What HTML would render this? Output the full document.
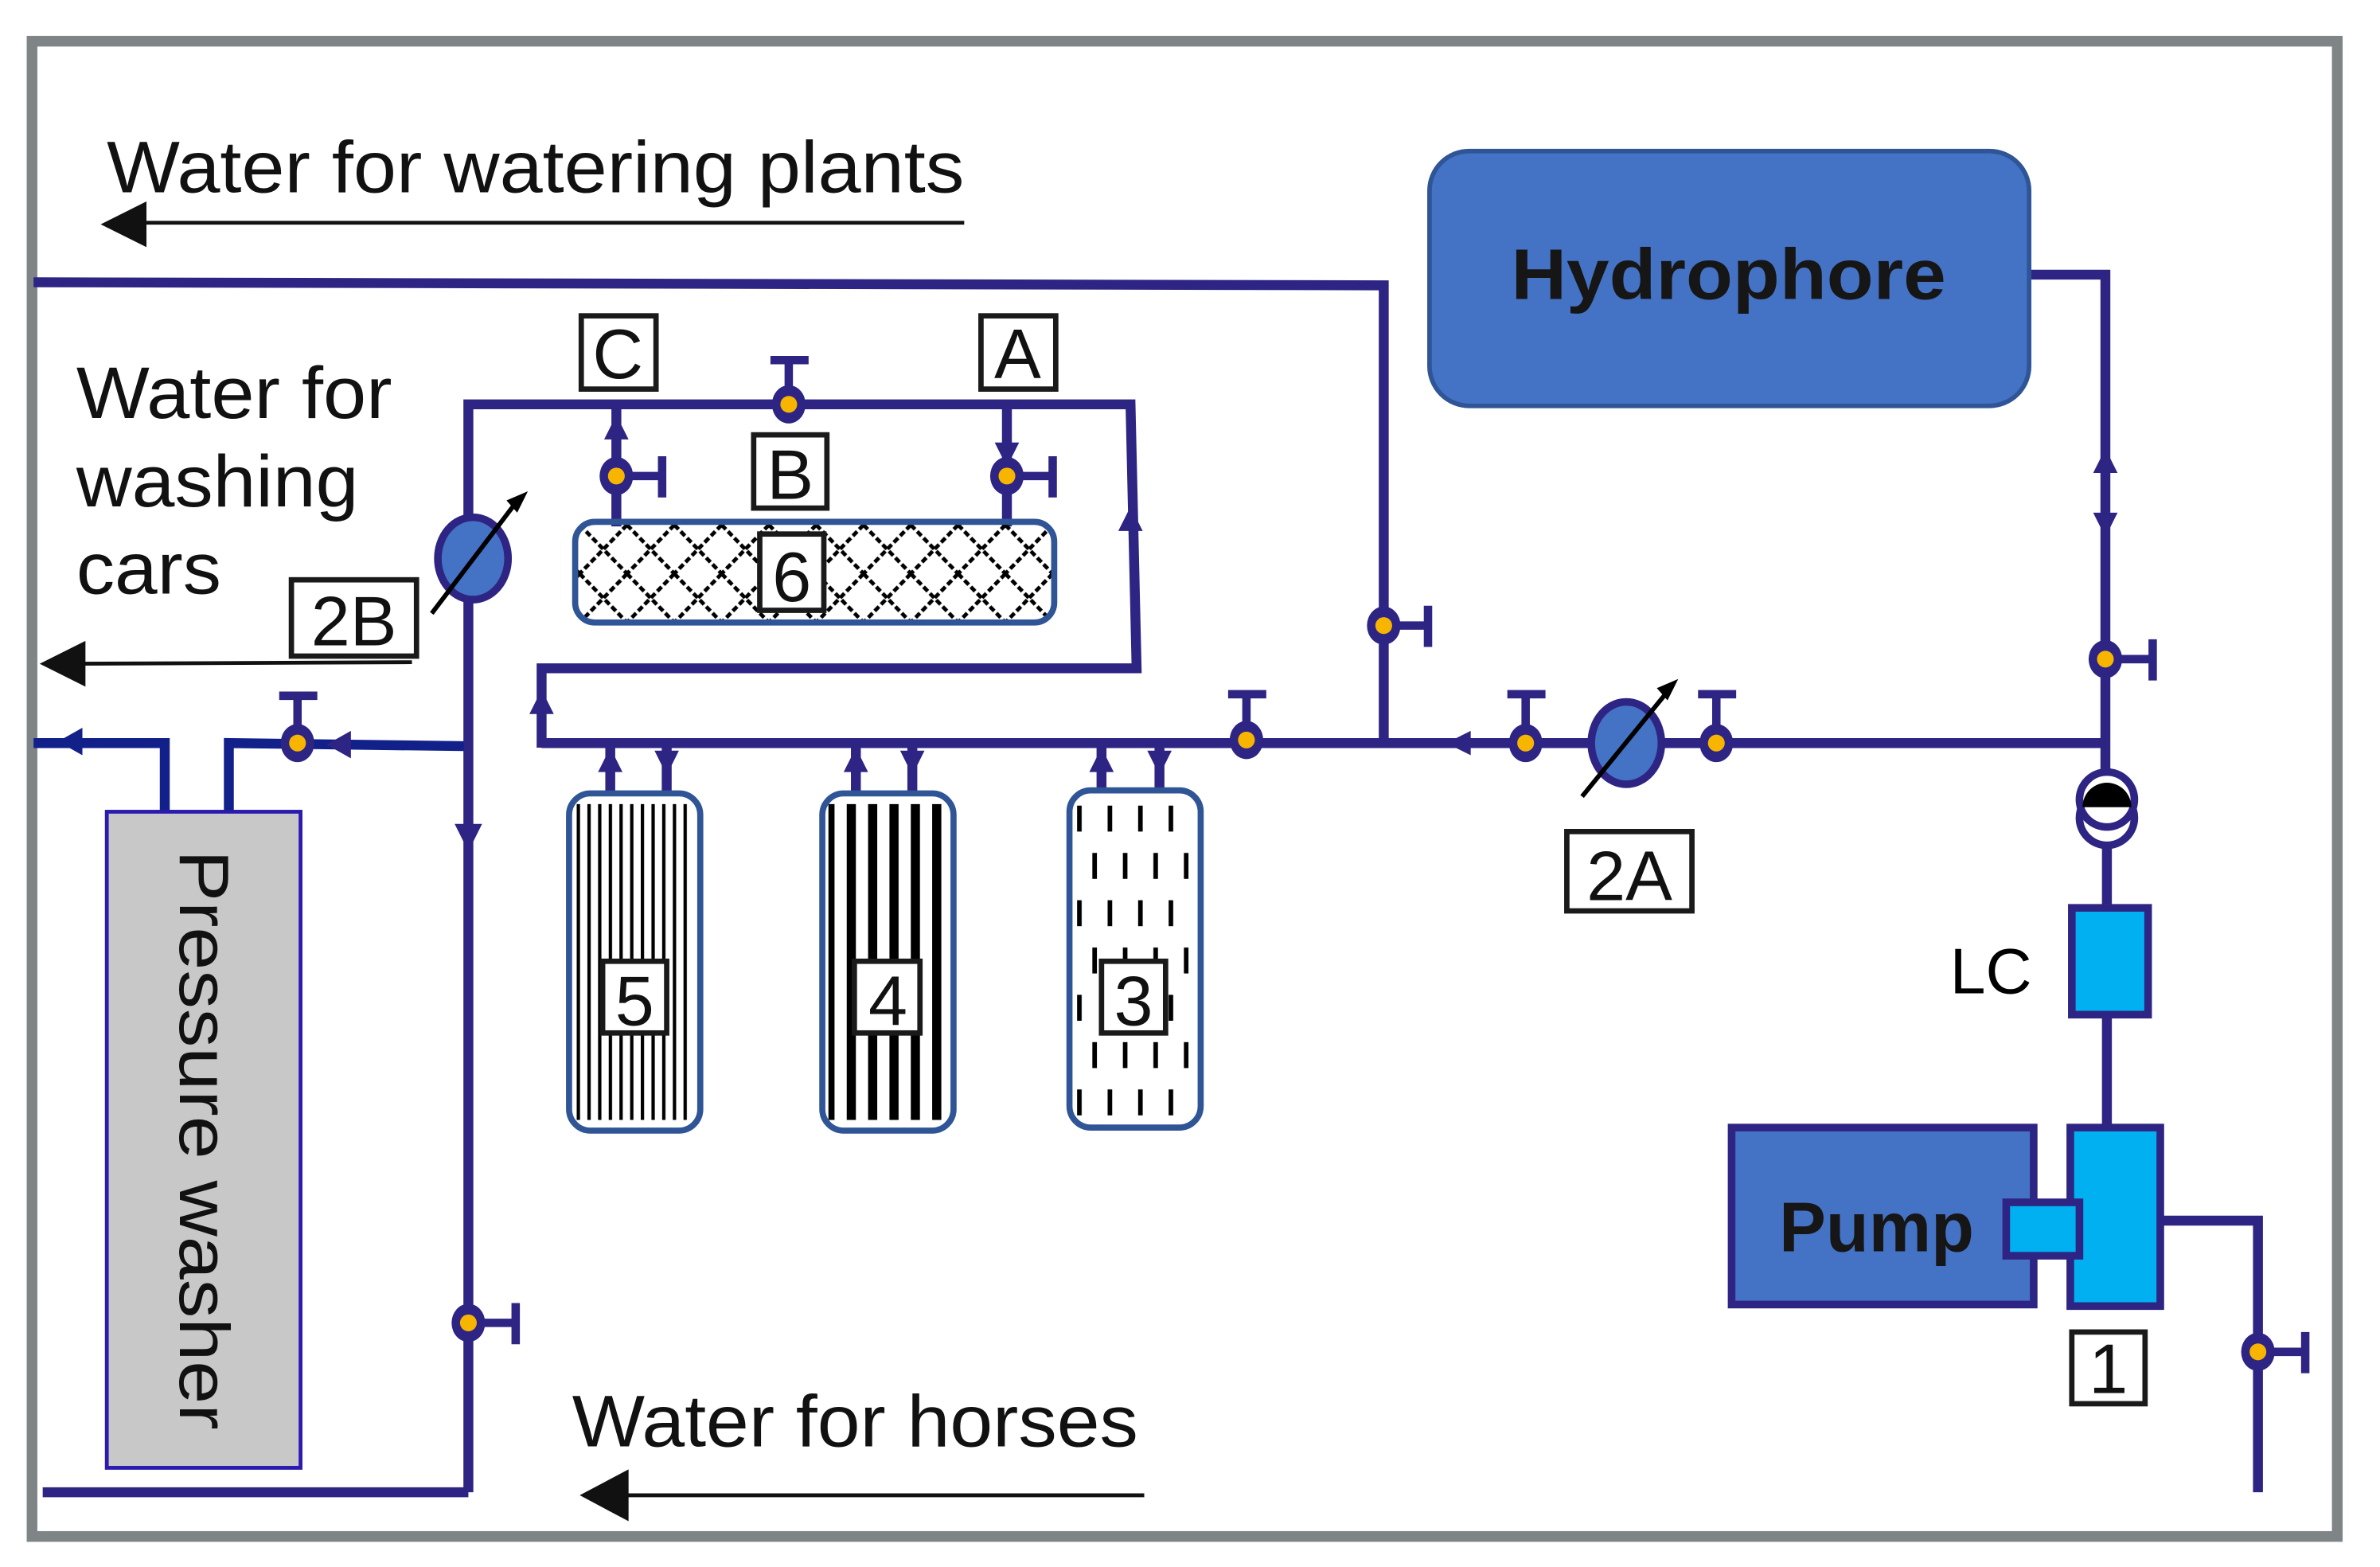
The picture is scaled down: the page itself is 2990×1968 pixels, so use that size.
<!DOCTYPE html>
<html><head><meta charset="utf-8"><style>
html,body{margin:0;padding:0;background:#fff;}
svg{display:block;}
text{font-family:"Liberation Sans Narrow","Liberation Sans",sans-serif;}
</style></head><body>
<svg width="2990" height="1968" viewBox="0 0 1560 1027" preserveAspectRatio="none" xmlns="http://www.w3.org/2000/svg">
<defs>
<pattern id="p5" width="7" height="10" patternUnits="userSpaceOnUse"><rect x="0" y="0" width="2.2" height="10" fill="#000"/></pattern>
<pattern id="p4" width="14" height="10" patternUnits="userSpaceOnUse" x="541"><rect x="0" y="0" width="6" height="10" fill="#000"/></pattern>
<pattern id="p3" width="40" height="62" patternUnits="userSpaceOnUse" x="706" y="520"><rect x="0" y="8" width="3" height="17" fill="#000"/><rect x="20" y="8" width="3" height="17" fill="#000"/><rect x="10" y="39" width="3" height="17" fill="#000"/><rect x="30" y="39" width="3" height="17" fill="#000"/></pattern>
<pattern id="p6" width="31" height="32" patternUnits="userSpaceOnUse" x="380" y="344"><path d="M0 0 L31 32 M31 0 L0 32" stroke="#000" stroke-width="2.5" stroke-dasharray="4 2"/></pattern>
<g id="v"><ellipse cx="0" cy="0" rx="11" ry="12.5" fill="#2e2483"/><circle cx="0" cy="0" r="5.5" fill="#f8b500"/></g>
</defs>
<rect x="21" y="27" width="1511" height="980" fill="#fff" stroke="#7f8487" stroke-width="7"/>

<g fill="none" stroke="#2e2483" stroke-width="6.5">
<polyline points="22,185 907,187 907,487"/>
<polyline points="355,487 1380,487"/>
<polyline points="1330,180 1380,180 1380,540"/>
<polyline points="307,978 307,265 741,265 745,438 355,438 355,490"/>
<line x1="404" y1="265" x2="404" y2="345"/>
<line x1="660" y1="265" x2="660" y2="345"/>
<polyline points="400,520 400,487"/>
<polyline points="437,520 437,487"/>
<polyline points="561,520 561,487"/>
<polyline points="598,520 598,487"/>
<polyline points="722,520 722,487"/>
<polyline points="760,520 760,487"/>
<line x1="1381" y1="555" x2="1381" y2="740"/>
<polyline points="1417,800 1480,800 1480,978"/>
<polyline points="28,978 307,978"/>
</g>
<g fill="none" stroke="#12208a" stroke-width="6.5">
<polyline points="22,487 108,487 108,532"/>
<polyline points="150,532 150,487 304,489"/>
</g>
<g stroke="#2e2483" stroke-width="5.5" fill="none">
<path d="M907 410 H935 M936 397 V424"/>
<path d="M404 312 H432 M434 299 V326"/>
<path d="M660 312 H688 M690 299 V326"/>
<path d="M517 265 V237 M505 236 H530"/>
<path d="M817 485 V455 M805 455 H830"/>
<path d="M1000 485 V455 M988 455 H1013"/>
<path d="M1125 485 V455 M1113 455 H1138"/>
<path d="M1380 432 H1410 M1411 419 V446"/>
<path d="M195 487 V457 M183 456 H208"/>
<path d="M307 867 H337 M338 854 V881"/>
<path d="M1480 886 H1510 M1511 873 V900"/>
</g>
<use href="#v" x="907" y="410"/><use href="#v" x="404" y="312"/><use href="#v" x="660" y="312"/>
<use href="#v" x="517" y="265"/><use href="#v" x="817" y="485"/><use href="#v" x="1000" y="487"/>
<use href="#v" x="1125" y="487"/><use href="#v" x="1380" y="432"/><use href="#v" x="195" y="487"/>
<use href="#v" x="307" y="867"/><use href="#v" x="1480" y="886"/>

<g fill="#2e2483">
<path d="M404 272 l-8 16 h16z"/>
<path d="M660 306 l-8 -16 h16z"/>
<path d="M741 332 l-8 16 h16z"/>
<path d="M355 452 l-8 16 h16z"/>
<path d="M400 490 l-8 16 h16z"/><path d="M437 508 l-8 -16 h16z"/>
<path d="M561 490 l-8 16 h16z"/><path d="M598 508 l-8 -16 h16z"/>
<path d="M722 490 l-8 16 h16z"/><path d="M760 508 l-8 -16 h16z"/>
<path d="M948 487 l16 -8 v16z"/>
<path d="M1380 294 l-8 16 h16z"/><path d="M1380 352 l-8 -16 h16z"/>
<path d="M307 558 l-9 -18 h18z"/>
<path d="M38 486 l16 -9 v18z" fill="#12208a"/>
<path d="M214 488 l16 -9 v18z"/>
</g>

<rect x="937" y="99" width="393" height="167" rx="26" fill="#4472c4" stroke="#2f5597" stroke-width="3"/>
<text x="1133" y="196" font-family="Liberation Sans" font-weight="bold" font-size="47" text-anchor="middle" fill="#161616" textLength="285" lengthAdjust="spacingAndGlyphs">Hydrophore</text>

<ellipse cx="310" cy="366" rx="23" ry="27" fill="#4472c4" stroke="#2e2483" stroke-width="5"/>
<path d="M283 402 L340 327" stroke="#000" stroke-width="3"/><path d="M346 322 l-14 6 l7 8z" fill="#000"/>
<ellipse cx="1066" cy="487" rx="23" ry="27" fill="#4472c4" stroke="#2e2483" stroke-width="5"/>
<path d="M1037 522 L1094 452" stroke="#000" stroke-width="3"/><path d="M1100 445 l-14 6 l7 8z" fill="#000"/>

<rect x="377" y="342" width="314" height="66" rx="13" fill="url(#p6)" stroke="#2f5597" stroke-width="4"/>

<rect x="373" y="520" width="86" height="221" rx="14" fill="#fff" stroke="#2f5597" stroke-width="4"/>
<rect x="378" y="527" width="76" height="207" fill="url(#p5)"/>
<rect x="539" y="520" width="86" height="221" rx="14" fill="#fff" stroke="#2f5597" stroke-width="4"/>
<rect x="543" y="527" width="78" height="207" fill="url(#p4)"/>
<rect x="701" y="518" width="86" height="221" rx="14" fill="url(#p3)" stroke="#2f5597" stroke-width="4"/>

<circle cx="1381" cy="536" r="18" fill="#fff" stroke="#2e2483" stroke-width="5"/>
<circle cx="1381" cy="524" r="18" fill="#fff" stroke="#2e2483" stroke-width="5"/>
<path d="M1365 529 A16 16 0 0 1 1397 529 Z" fill="#000"/>

<rect x="1358" y="595" width="50" height="70" fill="#00b0f0" stroke="#2e2483" stroke-width="5"/>
<text x="1305" y="651" font-size="42" text-anchor="middle" fill="#000">LC</text>
<rect x="1135" y="739" width="198" height="116" fill="#4472c4" stroke="#2e2483" stroke-width="5"/>
<rect x="1357" y="739" width="59" height="117" fill="#00b0f0" stroke="#2e2483" stroke-width="5"/>
<rect x="1315" y="788" width="48" height="35" fill="#00b0f0" stroke="#2e2483" stroke-width="5"/>
<text x="1230" y="820" font-family="Liberation Sans" font-weight="bold" font-size="46" text-anchor="middle" fill="#161616">Pump</text>

<rect x="70" y="532" width="127" height="430" fill="#c8c8c8" stroke="#2a1ab0" stroke-width="2.5"/>
<text transform="translate(118,747) rotate(90)" font-family="Liberation Sans" font-size="46" text-anchor="middle" fill="#111" textLength="380" lengthAdjust="spacingAndGlyphs">Pressure washer</text>

<g fill="#fff" stroke="#1a1a1a" stroke-width="3.5">
<rect x="381" y="207" width="49" height="48"/>
<rect x="643" y="207" width="49" height="48"/>
<rect x="494" y="285" width="48" height="48"/>
<rect x="498" y="350" width="42" height="50"/>
<rect x="191" y="380" width="82" height="50"/>
<rect x="1027" y="545" width="82" height="52"/>
<rect x="395" y="630" width="42" height="47"/>
<rect x="560" y="630" width="43" height="47"/>
<rect x="722" y="630" width="42" height="47"/>
<rect x="1358" y="873" width="48" height="47"/>
</g>
<g font-size="46" text-anchor="middle" fill="#111">
<text x="405" y="248">C</text>
<text x="667" y="248">A</text>
<text x="518" y="327">B</text>
<text x="519" y="394">6</text>
<text x="232" y="423">2B</text>
<text x="1068" y="590">2A</text>
<text x="416" y="672">5</text>
<text x="582" y="672">4</text>
<text x="743" y="672">3</text>
<text x="1382" y="913">1</text>
</g>

<g font-size="48" fill="#111">
<text x="70" y="126" textLength="562" lengthAdjust="spacingAndGlyphs">Water for watering plants</text>
<text x="50" y="274" textLength="207" lengthAdjust="spacingAndGlyphs">Water for</text>
<text x="50" y="332" textLength="185" lengthAdjust="spacingAndGlyphs">washing</text>
<text x="50" y="389" textLength="95" lengthAdjust="spacingAndGlyphs">cars</text>
<text x="375" y="948" textLength="371" lengthAdjust="spacingAndGlyphs">Water for horses</text>
</g>
<g stroke="#111" stroke-width="2.5">
<line x1="90" y1="146" x2="632" y2="146"/>
<line x1="50" y1="435" x2="270" y2="434"/>
<line x1="405" y1="980" x2="750" y2="980"/>
</g>
<g fill="#111">
<path d="M66 147 l30 -15 v30z"/>
<path d="M26 435 l30 -15 v30z"/>
<path d="M380 980 l32 -17 v34z"/>
</g>
</svg>
</body></html>
